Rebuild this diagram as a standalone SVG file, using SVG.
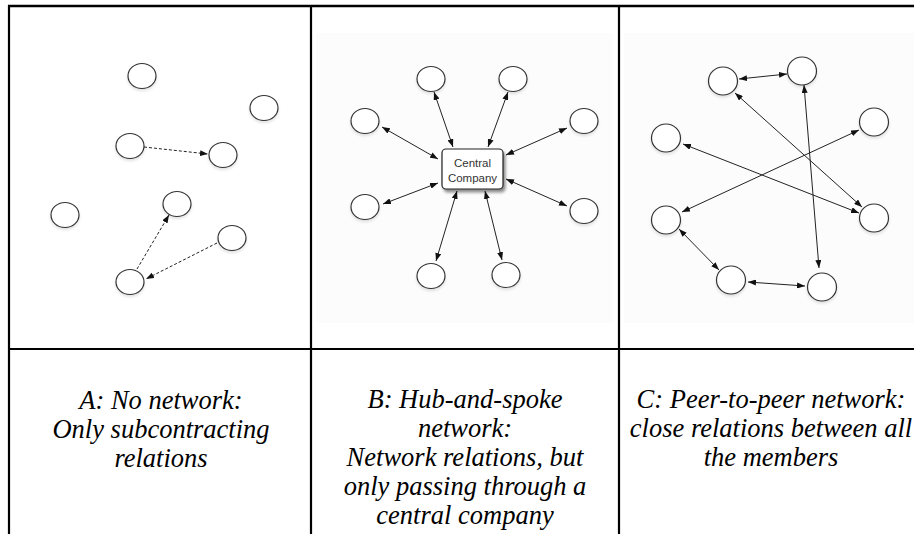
<svg xmlns="http://www.w3.org/2000/svg" width="914" height="534" viewBox="0 0 914 534">
  <style>
    .grid { stroke: #000; fill: none; }
    .node { fill: #fff; stroke: #333; stroke-width: 1.2; filter: url(#soft); }
    .hub { fill: #fff; stroke: #222; stroke-width: 1.2; filter: url(#drop); }
    .link { stroke: #222; stroke-width: 1; fill: none; }
    .dash { stroke-dasharray: 3 2; }
    .two { marker-start: url(#ah); marker-end: url(#ah); }
    .one { marker-end: url(#ah); }
    .cap { font-family: "Liberation Serif", "Times New Roman", serif; font-style: italic; font-size: 26.5px; fill: #000; text-anchor: middle; }
    .lbl { font-family: "Liberation Sans", Arial, sans-serif; font-size: 11.5px; fill: #333; text-anchor: middle; }
  </style>
  <defs>
    <marker id="ah" viewBox="0 0 8 6" refX="8" refY="3" markerWidth="8" markerHeight="6" markerUnits="userSpaceOnUse" orient="auto-start-reverse">
      <path d="M0,0 L8,3 L0,6 z" fill="#111"/>
    </marker>
    <filter id="soft" x="-40%" y="-40%" width="180%" height="200%">
      <feGaussianBlur in="SourceAlpha" stdDeviation="1.5"/>
      <feOffset dy="2" result="b"/>
      <feComponentTransfer><feFuncA type="linear" slope="0.12"/></feComponentTransfer>
      <feMerge><feMergeNode/><feMergeNode in="SourceGraphic"/></feMerge>
    </filter>
    <filter id="drop" x="-30%" y="-30%" width="170%" height="180%">
      <feGaussianBlur in="SourceAlpha" stdDeviation="1.8"/>
      <feOffset dx="1.5" dy="2.5" result="b"/>
      <feComponentTransfer><feFuncA type="linear" slope="0.45"/></feComponentTransfer>
      <feMerge><feMergeNode/><feMergeNode in="SourceGraphic"/></feMerge>
    </filter>
  </defs>

  <rect width="914" height="534" fill="#fff"/>
  <!-- faint backdrops of the B and C drawings -->
  <rect x="316" y="33" width="297" height="290" fill="#fcfcfc"/>
  <rect x="624" y="33" width="290" height="290" fill="#fcfcfc"/>

  <!-- table frame -->
  <g id="table" class="grid">
    <line x1="8" y1="6" x2="914" y2="6" stroke-width="2.5"/>
    <line x1="9" y1="5" x2="9" y2="534" stroke-width="2.2"/>
    <line x1="311" y1="5" x2="311" y2="534" stroke-width="2.2"/>
    <line x1="619" y1="5" x2="619" y2="534" stroke-width="2.2"/>
    <line x1="8" y1="349" x2="914" y2="349" stroke-width="2.2"/>
  </g>

  <!-- connectors -->
  <g id="connectors">
    <!-- A: subcontracting links -->
    <line class="link dash one" x1="144" y1="147" x2="208" y2="154"/>
    <line class="link dash one" x1="137" y1="269" x2="169" y2="215"/>
    <line class="link dash one" x1="217" y1="243" x2="146" y2="279"/>
    <!-- B: spokes to the hub -->
    <line class="link two" x1="434" y1="92" x2="453" y2="147"/>
    <line class="link two" x1="508" y1="92" x2="488" y2="147"/>
    <line class="link two" x1="382" y1="127" x2="438" y2="159"/>
    <line class="link two" x1="567" y1="128" x2="506" y2="155"/>
    <line class="link two" x1="383" y1="204" x2="438" y2="183"/>
    <line class="link two" x1="567" y1="206" x2="506" y2="179"/>
    <line class="link two" x1="436" y1="261" x2="457" y2="191"/>
    <line class="link two" x1="502" y1="260" x2="485" y2="191"/>
    <!-- C: peer links -->
    <line class="link two" x1="739" y1="79" x2="787" y2="74"/>
    <line class="link two" x1="735" y1="93" x2="862" y2="207"/>
    <line class="link two" x1="804" y1="85" x2="819" y2="268"/>
    <line class="link two" x1="683" y1="144" x2="859" y2="213"/>
    <line class="link two" x1="859" y1="130" x2="682" y2="212"/>
    <line class="link two" x1="679" y1="229" x2="719" y2="270"/>
    <line class="link two" x1="748" y1="282" x2="805" y2="286"/>
  </g>

  <!-- A: isolated firms -->
  <g id="a1"><ellipse class="node" cx="142" cy="76" rx="14" ry="12.5"/></g>
  <g id="a2"><ellipse class="node" cx="264" cy="108" rx="14" ry="12.5"/></g>
  <g id="a3"><ellipse class="node" cx="130" cy="146" rx="14" ry="12.5"/></g>
  <g id="a4"><ellipse class="node" cx="223" cy="155" rx="14" ry="12.5"/></g>
  <g id="a5"><ellipse class="node" cx="65" cy="215" rx="14" ry="12.5"/></g>
  <g id="a6"><ellipse class="node" cx="177" cy="204" rx="14" ry="12.5"/></g>
  <g id="a7"><ellipse class="node" cx="232" cy="238" rx="14" ry="12.5"/></g>
  <g id="a8"><ellipse class="node" cx="130" cy="282" rx="14" ry="12.5"/></g>

  <!-- B: hub and spokes -->
  <g id="hub">
    <rect class="hub" x="442" y="149" width="61" height="40" rx="4"/>
    <text class="lbl" x="472.5" y="167">Central</text>
    <text class="lbl" x="472.5" y="182">Company</text>
  </g>
  <g id="b1"><ellipse class="node" cx="431" cy="79" rx="14" ry="12.5"/></g>
  <g id="b2"><ellipse class="node" cx="513" cy="79" rx="14" ry="12.5"/></g>
  <g id="b3"><ellipse class="node" cx="365" cy="121" rx="14" ry="12.5"/></g>
  <g id="b4"><ellipse class="node" cx="584" cy="121" rx="14" ry="12.5"/></g>
  <g id="b5"><ellipse class="node" cx="365" cy="207" rx="14" ry="12.5"/></g>
  <g id="b6"><ellipse class="node" cx="584" cy="211" rx="14" ry="12.5"/></g>
  <g id="b7"><ellipse class="node" cx="431" cy="276" rx="14" ry="12.5"/></g>
  <g id="b8"><ellipse class="node" cx="506" cy="275" rx="14" ry="12.5"/></g>

  <!-- C: peer members -->
  <g id="c1"><ellipse class="node" cx="723" cy="81" rx="14.5" ry="14"/></g>
  <g id="c2"><ellipse class="node" cx="802" cy="71" rx="14.5" ry="14"/></g>
  <g id="c3"><ellipse class="node" cx="666" cy="138" rx="14.5" ry="14"/></g>
  <g id="c4"><ellipse class="node" cx="874" cy="122" rx="14.5" ry="14"/></g>
  <g id="c5"><ellipse class="node" cx="666" cy="220" rx="14.5" ry="14"/></g>
  <g id="c6"><ellipse class="node" cx="874" cy="218" rx="14.5" ry="14"/></g>
  <g id="c7"><ellipse class="node" cx="731" cy="280" rx="14.5" ry="14"/></g>
  <g id="c8"><ellipse class="node" cx="822" cy="287" rx="14.5" ry="14"/></g>

  <!-- captions -->
  <g id="captions">
    <text class="cap" x="161" y="409">A: No network:</text>
    <text class="cap" x="161" y="438">Only subcontracting</text>
    <text class="cap" x="161" y="467">relations</text>

    <text class="cap" x="465" y="408">B: Hub-and-spoke</text>
    <text class="cap" x="465" y="437">network:</text>
    <text class="cap" x="465" y="466">Network relations, but</text>
    <text class="cap" x="465" y="495">only passing through a</text>
    <text class="cap" x="465" y="524">central company</text>

    <text class="cap" x="771" y="408">C: Peer-to-peer network:</text>
    <text class="cap" x="771" y="437">close relations between all</text>
    <text class="cap" x="771" y="466">the members</text>
  </g>
</svg>
